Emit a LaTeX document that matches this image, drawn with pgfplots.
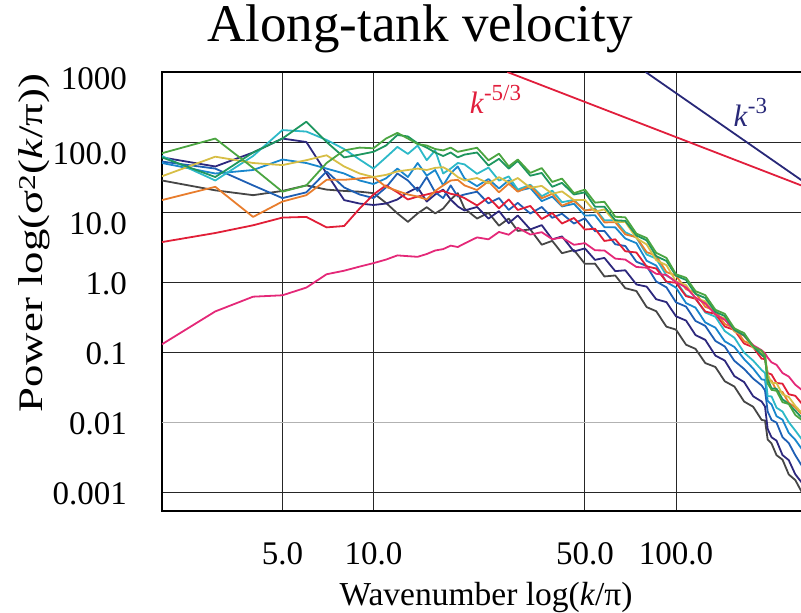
\documentclass[border=0pt]{standalone}
\usepackage{fontspec}
\setmainfont{Liberation Serif}
\usepackage{pgfplots}
\pgfplotsset{compat=1.18}
\definecolor{cMag}{RGB}{228,40,120}
\definecolor{cRed}{RGB}{225,30,55}
\definecolor{cOra}{RGB}{232,125,45}
\definecolor{cYel}{RGB}{215,190,70}
\definecolor{cGrA}{RGB}{75,165,65}
\definecolor{cGrB}{RGB}{30,150,95}
\definecolor{cCya}{RGB}{45,185,200}
\definecolor{cSky}{RGB}{25,135,205}
\definecolor{cBlu}{RGB}{30,95,180}
\definecolor{cNav}{RGB}{45,40,125}
\definecolor{cGra}{RGB}{70,70,70}
\definecolor{cRefRed}{RGB}{225,30,60}
\definecolor{cRefNav}{RGB}{40,40,120}
\newcommand{\sups}[1]{\raisebox{0.42em}{\fontsize{23}{26}\selectfont #1}}
\begin{document}
\begin{tikzpicture}
\path[use as bounding box] (-162pt,-102pt) rectangle (639pt,511pt);
\begin{axis}[
  at={(0pt,0pt)}, anchor=south west,
  scale only axis, width=640.5pt, height=439pt,
  xmode=log, ymode=log,
  xmin=2, xmax=262, ymin=5.354e-4, ymax=1000,
  xtick={5,10,50,100}, xticklabels={5.0,10.0,50.0,100.0},
  ytick={0.001,0.1,1,10,100,1000},
  yticklabels={0.001,0.1,1.0,\raisebox{-10pt}{10.0},\raisebox{-10pt}{100.0},\raisebox{-6pt}{1000}},
  extra y ticks={0.01}, extra y tick labels={0.01},
  extra y tick style={grid=major, major grid style={black!30, line width=1pt}},
  grid=major,
  major grid style={black!85, line width=0.9pt},
  major tick length=0pt, minor tick length=0pt,
  axis line style={black, line width=2.4pt},
  ticklabel style={font=\fontsize{33}{39}\selectfont, inner sep=0pt},
  xticklabel style={anchor=base, yshift=-53pt},
  yticklabel style={anchor=base east, xshift=-35pt, yshift=-12pt},
  xlabel={Wavenumber log(\textit{k}/π)},
  xlabel style={at={(axis description cs:0.506,0)}, anchor=base, yshift=-94pt, font=\fontsize{33.5}{40}\selectfont, inner sep=0pt},
  ylabel={\scalebox{1.12}[0.86]{Power log(σ\textsuperscript{2}(\textit{k}/π))}},
  ylabel style={at={(axis description cs:-0.186,0.61)}, anchor=base, font=\fontsize{40}{48}\selectfont, inner sep=0pt},
  title={Along-tank velocity},
  title style={at={(axis description cs:0.403,1)}, anchor=base, yshift=24pt, font=\fontsize{53}{60}\selectfont, inner sep=0pt},
  every axis plot/.append style={line width=1.8pt, no marks, line join=round},
]
% gray
\addplot[cGra] coordinates {(2,28.2)(3,20.4)(4,17.4)(5,20.0)(6,24.0)(7,20.9)(8,20.0)(9,19.5)(10,18.6)(11,13.5)(12,9.55)(13,7.24)(14,9.55)(15,11.7)(16,9.55)(17,11.2)(18,15.1)(19,18.6)(20,11.2)
(22,8.07)(24,9.75)(26,6.38)(28,8.05)(30,5.37)(33,5.64)(36,3.41)(39,3.87)(42,2.58)(46,2.86)(50,1.82)(54,1.83)(58,1.20)(63,1.24)(68,0.817)(74,0.743)(80,0.438)(86,0.383)(93,0.230)(100,0.209)(108,0.127)(116,0.111)(125,0.0695)(135,0.0611)(145,0.0382)(156,0.0321)(168,0.0196)(180,0.0165)(192,0.0107)(197,0.0105)(201,0.00562)(207,0.00493)(215,0.00336)(225,0.00290)(236,0.00178)(248,0.00148)(262,0.000955)};
% navy
\addplot[cNav] coordinates {(2,60.3)(3,44.7)(4,70.8)(5,112)(6,100)(7,35.5)(8,14.8)(9,13.2)(10,12.6)(11,13.2)(12,15.1)(13,19.1)(14,22.4)(15,14.1)(16,17.8)(17,20.9)(18,15.1)(19,12.0)(20,10.5)
(22,11.8)(24,8.05)(26,10.3)(28,6.92)(30,8.91)(33,5.64)(36,6.50)(39,4.06)(42,4.48)(46,2.73)(50,3.02)(54,2.07)(58,2.21)(63,1.43)(68,1.47)(74,0.923)(80,0.859)(86,0.568)(93,0.516)(100,0.324)(108,0.281)(116,0.175)(125,0.149)(135,0.0889)(145,0.0755)(156,0.0452)(168,0.0372)(180,0.0233)(192,0.0196)(197,0.0166)(201,0.00794)(207,0.00605)(215,0.00541)(225,0.00337)(236,0.00285)(248,0.00179)(262,0.00132)};
% blue
\addplot[cBlu] coordinates {(2,52.5)(3,41.7)(4,24.0)(5,15.8)(6,19.1)(7,38.0)(8,22.4)(9,17.8)(10,15.8)(11,22.4)(12,35.5)(13,28.2)(14,20.0)(15,31.6)(16,19.1)(17,15.8)(18,24.0)(19,16.6)(20,17.8)
(22,19.5)(24,13.3)(26,15.8)(28,10.7)(30,13.5)(33,9.51)(36,11.8)(39,8.26)(42,9.44)(46,6.85)(50,8.13)(54,5.33)(58,5.37)(63,3.46)(68,3.27)(74,1.95)(80,1.69)(86,1.02)(93,0.839)(100,0.513)(108,0.445)(116,0.278)(125,0.236)(135,0.144)(145,0.120)(156,0.0748)(168,0.0573)(180,0.0417)(192,0.0333)(197,0.0282)(201,0.0141)(207,0.0107)(215,0.00980)(225,0.00607)(236,0.00500)(248,0.00335)(262,0.00229)};
% sky
\addplot[cSky] coordinates {(2,50.1)(3,35.5)(4,39.8)(5,56.2)(6,50.1)(7,41.7)(8,35.5)(9,28.2)(10,25.1)(11,30.2)(12,41.7)(13,31.6)(14,50.1)(15,33.1)(16,39.8)(17,24.0)(18,35.5)(19,44.7)(20,30.2)
(22,23.4)(24,29.6)(26,21.7)(28,28.3)(30,20.0)(33,22.1)(36,14.3)(39,16.6)(42,12.0)(46,13.1)(50,8.91)(54,8.99)(58,6.08)(63,6.03)(68,4.18)(74,3.59)(80,2.01)(86,1.72)(93,1.00)(100,0.832)(108,0.499)(116,0.431)(125,0.264)(135,0.223)(145,0.142)(156,0.118)(168,0.0791)(180,0.0581)(192,0.0407)(197,0.0398)(201,0.0200)(207,0.0178)(215,0.0121)(225,0.0108)(236,0.00698)(248,0.00557)(262,0.00398)};
% cyan
\addplot[cCya] coordinates {(2,63.1)(3,28.2)(4,63.1)(5,148)(6,141)(7,107)(8,79.4)(9,56.2)(10,41.7)(11,60.3)(12,85.1)(13,67.6)(14,89.1)(15,55.0)(16,75.9)(17,35.5)(18,41.7)(19,50.1)(20,47.9)
(22,35.1)(24,43.1)(26,28.1)(28,32.2)(30,20.9)(33,24.5)(36,16.8)(39,20.2)(42,13.8)(46,14.9)(50,10.5)(54,11.2)(58,7.62)(63,7.64)(68,5.13)(74,4.32)(80,2.47)(86,2.16)(93,1.24)(100,1.02)(108,0.644)(116,0.583)(125,0.367)(135,0.319)(145,0.199)(156,0.160)(168,0.098)(180,0.0753)(192,0.0553)(197,0.0501)(201,0.0234)(207,0.0232)(215,0.0160)(225,0.0141)(236,0.00995)(248,0.00755)(262,0.0055)};
% red
\addplot[cRed] coordinates {(2,3.72)(3,5.01)(4,6.46)(5,8.32)(6,8.51)(7,6.03)(8,6.31)(9,11.2)(10,17.8)(11,24.0)(12,19.1)(13,15.1)(14,16.6)(15,17.8)(16,19.1)(17,20.0)(18,18.2)(19,17.4)(20,15.8)
(22,12.4)(24,16.1)(26,11.3)(28,15.1)(30,10.7)(33,12.2)(36,7.94)(39,9.68)(42,6.85)(46,8.22)(50,5.62)(54,5.77)(58,3.86)(63,4.07)(68,2.75)(74,2.64)(80,1.67)(86,1.56)(93,1.01)(100,0.977)(108,0.627)(116,0.577)(125,0.378)(135,0.351)(145,0.231)(156,0.206)(168,0.132)(180,0.117)(192,0.0802)(197,0.0794)(201,0.0501)(207,0.0478)(215,0.0361)(225,0.0353)(236,0.0249)(248,0.0237)(262,0.0178)};
% orange
\addplot[cOra] coordinates {(2,14.8)(3,22.9)(4,8.51)(5,14.1)(6,17.4)(7,28.8)(8,28.8)(9,30.2)(10,31.6)(11,22.9)(12,20.0)(13,17.8)(14,16.6)(15,15.1)(16,20.0)(17,24.0)(18,28.2)(19,28.8)(20,24.0)
(22,20.6)(24,27.4)(26,19.1)(28,25.4)(30,19.5)(33,23.7)(36,15.7)(39,18.2)(42,12.3)(46,14.4)(50,10.5)(54,10.9)(58,7.11)(63,7.13)(68,4.79)(74,4.37)(80,2.67)(86,2.38)(93,1.39)(100,1.23)(108,0.787)(116,0.706)(125,0.442)(135,0.389)(145,0.251)(156,0.220)(168,0.143)(180,0.125)(192,0.0904)(197,0.0832)(201,0.0389)(207,0.0390)(215,0.0281)(225,0.0268)(236,0.0188)(248,0.0162)(262,0.0126)};
% yellow
\addplot[cYel] coordinates {(2,32.4)(3,61.7)(4,50.1)(5,46.8)(6,55.0)(7,64.6)(8,44.7)(9,35.5)(10,31.6)(11,33.9)(12,38.0)(13,39.8)(14,41.7)(15,39.8)(16,42.7)(17,43.7)(18,38.0)(19,31.6)(20,28.2)
(22,30.6)(24,25.6)(26,31.5)(28,26.3)(30,30.6)(33,22.1)(36,23.6)(39,18.2)(42,19.7)(46,14.8)(50,14.9)(54,10.1)(58,10.9)(63,7.19)(68,7.24)(74,4.24)(80,3.44)(86,2.05)(93,1.74)(100,1.02)(108,0.904)(116,0.587)(125,0.531)(135,0.339)(145,0.304)(156,0.196)(168,0.171)(180,0.115)(192,0.0964)(197,0.0891)(201,0.0479)(207,0.0363)(215,0.0360)(225,0.0248)(236,0.0228)(248,0.0170)(262,0.0132)};
% magenta
\addplot[cMag] coordinates {(2,0.129)(3,0.380)(4,0.617)(5,0.646)(6,0.832)(7,1.29)(8,1.45)(9,1.66)(10,1.86)(11,2.09)(12,2.40)(13,2.34)(14,2.29)(15,2.51)(16,2.82)(17,2.95)(18,3.31)(19,3.16)(20,3.55)
(22,4.34)(24,4.07)(26,5.19)(28,4.74)(30,5.96)(33,4.76)(36,5.15)(39,4.09)(42,4.32)(46,3.40)(50,3.59)(54,2.84)(58,2.82)(63,2.16)(68,2.09)(74,1.64)(80,1.60)(86,1.31)(93,1.26)(100,1.00)(108,0.836)(116,0.598)(125,0.495)(135,0.344)(145,0.289)(156,0.206)(168,0.171)(180,0.125)(192,0.106)(197,0.0955)(201,0.0832)(207,0.0711)(215,0.0656)(225,0.0501)(236,0.0446)(248,0.0341)(262,0.0282)};
% green B
\addplot[cGrB] coordinates {(2,60.3)(3,31.6)(4,70.8)(5,112)(6,195)(7,100)(8,60.3)(9,66.1)(10,72.4)(11,89.1)(12,126)(13,120)(14,95.5)(15,83.2)(16,70.8)(17,63.1)(18,70.8)(19,60.3)(20,66.1)
(22,70.8)(24,46.1)(26,57.5)(28,41.6)(30,53.7)(33,33.0)(36,36.1)(39,22.9)(42,26.1)(46,17.8)(50,19.1)(54,11.9)(58,11.9)(63,7.62)(68,7.48)(74,4.62)(80,3.94)(86,2.34)(93,2.00)(100,1.23)(108,1.07)(116,0.676)(125,0.592)(135,0.374)(145,0.327)(156,0.207)(168,0.173)(180,0.120)(192,0.0910)(197,0.0832)(201,0.0407)(207,0.0302)(215,0.0299)(225,0.0211)(236,0.0181)(248,0.0145)(262,0.0112)};
% green A
\addplot[cGrA] coordinates {(2,69.2)(3,112)(4,42.7)(5,19.5)(6,24.0)(7,50.1)(8,75.9)(9,83.2)(10,81.3)(11,112)(12,135)(13,112)(14,93.3)(15,89.1)(16,79.4)(17,75.9)(18,83.2)(19,72.4)(20,75.9)
(22,82.8)(24,54.8)(26,68.1)(28,44.8)(30,56.2)(33,36.2)(36,42.4)(39,26.9)(42,30.0)(46,18.6)(50,20.9)(54,13.6)(58,14.0)(63,8.55)(68,8.39)(74,4.91)(80,4.25)(86,2.62)(93,2.21)(100,1.29)(108,1.15)(116,0.741)(125,0.649)(135,0.401)(145,0.351)(156,0.217)(168,0.186)(180,0.120)(192,0.104)(197,0.0891)(201,0.0355)(207,0.0288)(215,0.0279)(225,0.0192)(236,0.0181)(248,0.0126)(262,0.0105)};
% reference slopes
\addplot[cRefRed] coordinates {(27.7,1000) (262,23.6)};
\addplot[cRefNav] coordinates {(79.4,1000) (262,27.8)};
\node[anchor=base west, inner sep=0pt, text=cRefRed, font=\fontsize{31}{36}\selectfont] at (axis cs:20.8,259) {\textit{k}\sups{-5/3}};
\node[anchor=base west, inner sep=0pt, text=cRefNav, font=\fontsize{31}{36}\selectfont] at (axis cs:155,164) {\textit{k}\sups{-3}};
\end{axis}
\end{tikzpicture}
\end{document}
